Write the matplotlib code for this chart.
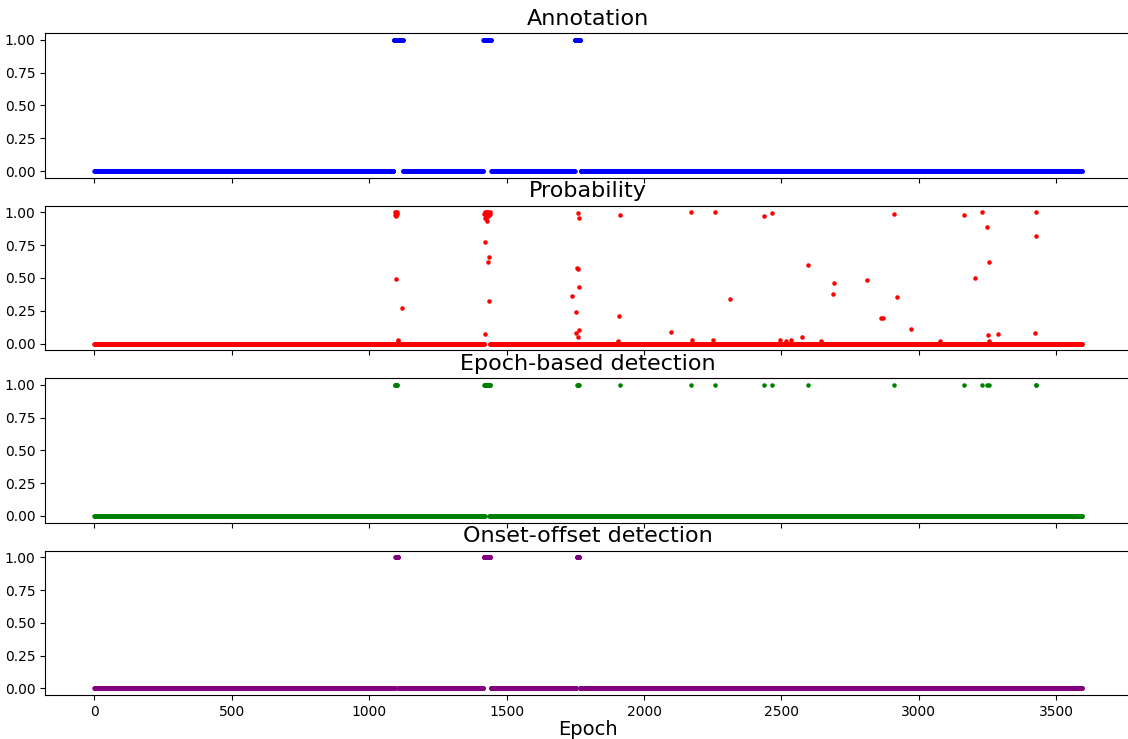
import numpy as np
import matplotlib
matplotlib.use('Agg')
import matplotlib.pyplot as plt

n_epochs = 3595

# Annotated seizure segments (first, last epoch)
annotation_segments = [(1089, 1122), (1415, 1443), (1748, 1768)]

# Non-zero model probabilities (epoch -> probability), everything else is 0
prob_epochs = [1094, 1095, 1096, 1097, 1098, 1099, 1100, 1101, 1103, 1104, 1118,
               1418, 1420, 1421, 1422, 1423, 1424, 1425, 1426, 1427, 1428, 1429,
               1430, 1431, 1432, 1433, 1434, 1435, 1436, 1437, 1438, 1440,
               1738, 1753, 1754, 1757, 1758, 1760, 1761, 1762, 1764, 1765,
               1906, 1909, 1912, 2099, 2170, 2175, 2252, 2257, 2312, 2435, 2467,
               2496, 2517, 2536, 2574, 2595, 2645, 2689, 2690, 2812, 2862, 2871,
               2911, 2922, 2971, 3078, 3166, 3203, 3229, 3249, 3252, 3254, 3255,
               3287, 3424, 3426, 3427]
prob_values = [0.98, 1.00, 0.49, 0.99, 1.00, 0.97, 0.99, 1.00, 0.03, 0.02, 0.27,
               0.99, 1.00, 0.96, 0.07, 0.77, 1.00, 0.98, 0.95, 1.00, 0.93, 0.99,
               1.00, 0.62, 0.97, 1.00, 0.99, 0.66, 0.325, 0.98, 1.00, 0.99,
               0.365, 0.24, 0.08, 0.577, 0.57, 0.05, 0.998, 0.96, 0.105, 0.43,
               0.02, 0.21, 0.98, 0.087, 1.00, 0.023, 0.03, 1.00, 0.34, 0.97, 0.995,
               0.03, 0.02, 0.025, 0.05, 0.595, 0.018, 0.375, 0.46, 0.487, 0.197, 0.195,
               0.99, 0.357, 0.113, 0.018, 0.98, 0.50, 1.00, 0.887, 0.064, 0.018, 0.62,
               0.074, 0.082, 1.00, 0.818]

# Epochs flagged by the epoch-wise detector
epoch_detections = [1094, 1095, 1097, 1098, 1099, 1100, 1101,
                    1418, 1420, 1421, 1423, 1424, 1425, 1426, 1427, 1428, 1429,
                    1430, 1431, 1432, 1433, 1434, 1435, 1437, 1438, 1440,
                    1757, 1758, 1761, 1762, 1912, 2170, 2257, 2435, 2467, 2595,
                    2911, 3166, 3229, 3249, 3255, 3426, 3427]

# Onset/offset detected events (first, last epoch)
onset_offset_segments = [(1095, 1105), (1416, 1441), (1755, 1765)]


def segments_to_array(segments):
    arr = np.zeros(n_epochs)
    for start, end in segments:
        arr[start:end + 1] = 1
    return arr


epochs = np.arange(n_epochs)
annotation = segments_to_array(annotation_segments)
probability = np.zeros(n_epochs)
probability[prob_epochs] = prob_values
epoch_based = np.zeros(n_epochs)
epoch_based[epoch_detections] = 1
onset_offset = segments_to_array(onset_offset_segments)

fig, axes = plt.subplots(4, 1, figsize=(11.28, 7.39), dpi=100, sharex=True)
series = [
    (annotation, 'blue', 'Annotation'),
    (probability, 'red', 'Probability'),
    (epoch_based, 'green', 'Epoch-based detection'),
    (onset_offset, 'purple', 'Onset-offset detection'),
]
for ax, (values, color, title) in zip(axes, series):
    ax.plot(epochs, values, '.', color=color, markersize=4.5)
    ax.set_title(title, fontsize=16)
    ax.set_yticks([0, 0.25, 0.5, 0.75, 1.0])
    ax.set_yticklabels(['0.00', '0.25', '0.50', '0.75', '1.00'])

axes[-1].set_xlabel('Epoch', fontsize=14, labelpad=1)
axes[-1].set_xticks([0, 500, 1000, 1500, 2000, 2500, 3000, 3500])

plt.subplots_adjust(left=0.04, right=1.003, top=0.955, bottom=0.0595, hspace=0.195)
plt.savefig('out.png')
